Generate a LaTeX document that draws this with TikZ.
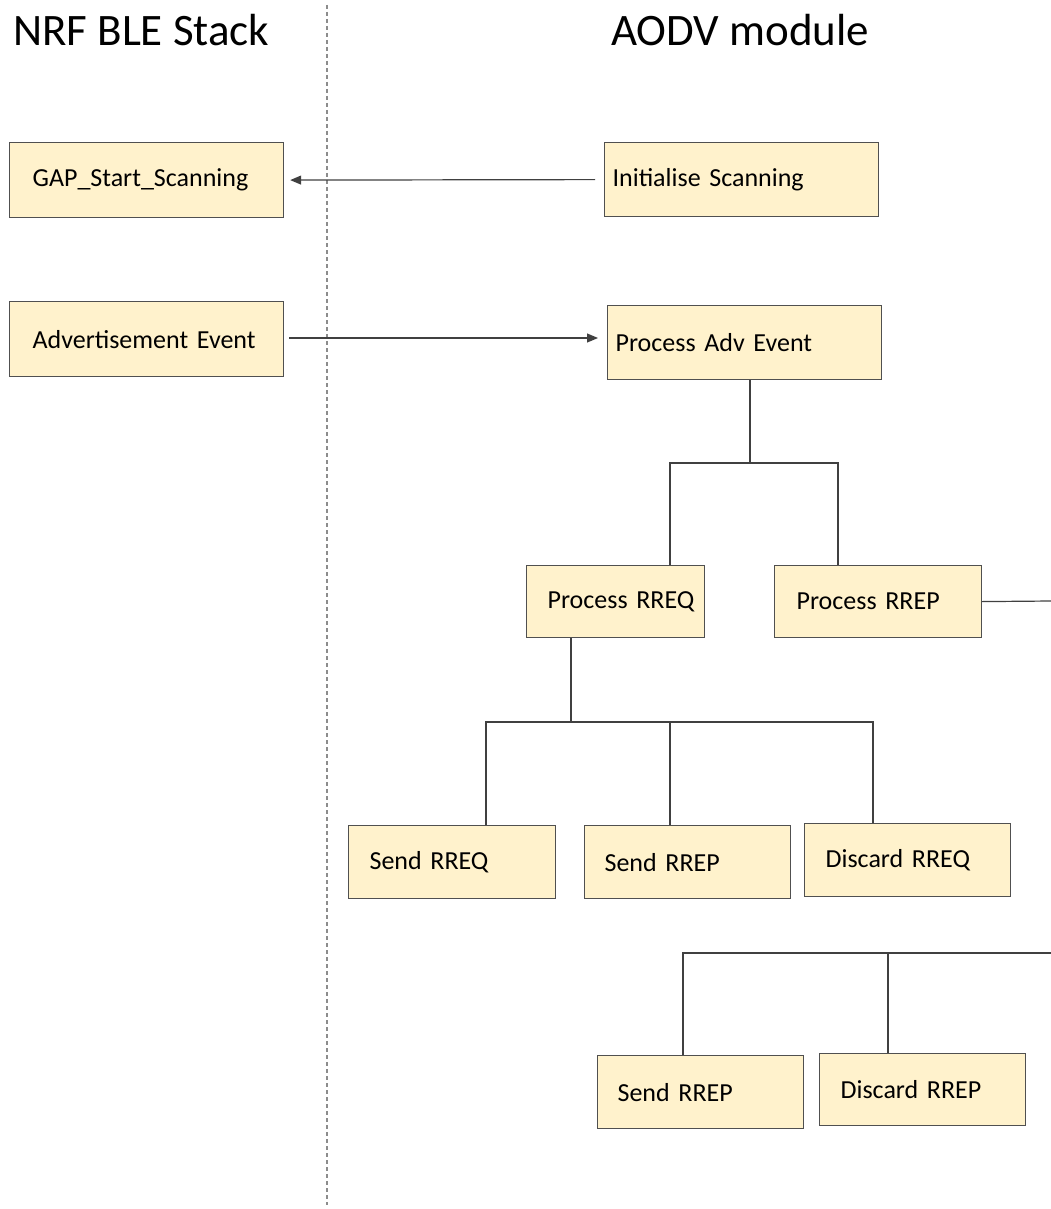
\documentclass[tikz,border=0pt]{standalone}
\usepackage{fontspec}
\setmainfont{Carlito}
\usetikzlibrary{arrows.meta}
\definecolor{boxfill}{HTML}{FFF2CC}
\definecolor{boxline}{HTML}{505050}
\definecolor{connline}{HTML}{404040}
\definecolor{laneline}{HTML}{8C8C8C}
\begin{document}
\begin{tikzpicture}[x=1pt,y=-1pt,
  box/.style={draw=boxline, line width=1.2pt, fill=boxfill, anchor=north west,
    align=left, font=\fontsize{26}{30}\selectfont, inner sep=0pt},
  title/.style={anchor=base west, inner sep=0pt, font=\fontsize{45}{52}\selectfont},
  conn/.style={draw=connline, line width=1.2pt},
  arr/.style={conn, -{Triangle[length=11pt,width=9pt]}},
  lane/.style={draw=laneline, line width=1.5pt, dash pattern=on 4pt off 3pt}]
\useasboundingbox (0,0) rectangle (1051,1209);

% swim-lane titles and divider
\node[title] (tstack) at (13,46) {NRF BLE Stack};
\node[title] (taodv) at (611,46) {AODV module};
\draw[lane] (327,5) -- (327,1205);

% NRF BLE stack side
\node[box, text width=274pt, minimum height=75pt]
  (gap) at (9,142) {\hspace*{23pt}GAP\_Start\_Scanning};
\node[box, text width=274pt, minimum height=75pt]
  (adv) at (9,301) {\hspace*{23pt}Advertisement Event};

% AODV module side
\node[box, text width=274pt, minimum height=74pt]
  (init) at (604,142) {\hspace*{8pt}Initialise Scanning};
\node[box, text width=274pt, minimum height=74pt]
  (padv) at (607,305) {\hspace*{8pt}Process Adv Event};
\node[box, text width=178pt, minimum height=72pt]
  (preq) at (526,565) {\hspace*{21pt}Process RREQ};
\node[box, text width=207pt, minimum height=72pt]
  (prep) at (774,565) {\hspace*{22pt}Process RREP};
\node[box, text width=207pt, minimum height=73pt]
  (sreq) at (348,825) {\hspace*{21pt}Send RREQ};
\node[box, text width=206pt, minimum height=73pt]
  (srep) at (584,825) {\hspace*{20pt}Send RREP};
\node[box, text width=206pt, minimum height=73pt]
  (dreq) at (804,823) {\hspace*{21pt}Discard RREQ};
\node[box, text width=206pt, minimum height=73pt]
  (srep2) at (597,1055) {\hspace*{20pt}Send RREP};
\node[box, text width=206pt, minimum height=72pt]
  (drep) at (819,1053) {\hspace*{21pt}Discard RREP};

% messages across the lanes
\draw[arr] ([xshift=-9pt]init.west) -- ([xshift=6pt]gap.east);
\draw[arr] ([xshift=5pt]adv.east |- 0,338) -- ([xshift=-9pt]padv.west |- 0,338);

% junction points of the branch lines
\coordinate (j1) at (750,463);
\coordinate (b1l) at (670,463);
\coordinate (b1r) at (838,463);
\coordinate (j2) at (571,722);
\coordinate (b2l) at (486,722);
\coordinate (b2m) at (670,722);
\coordinate (b2r) at (873,722);
\coordinate (prepout) at (1051,601);
\coordinate (b3l) at (683,953);
\coordinate (b3m) at (888,953);
\coordinate (b3r) at (1051,953);

% Process Adv Event branches
\draw[conn] (j1 |- padv.south) -- (j1);
\draw[conn] (preq.north -| b1l) -- (b1l) -- (b1r) -- (prep.north -| b1r);

% Process RREQ branches
\draw[conn] (j2 |- preq.south) -- (j2);
\draw[conn] (sreq.north -| b2l) -- (b2l) -- (b2r) -- (dreq.north -| b2r);
\draw[conn] (b2m) -- (srep.north -| b2m);

% Process RREP branches
\draw[conn] (prep.east) -- (prepout);
\draw[conn] (b3r) -- (b3l) -- (srep2.north -| b3l);
\draw[conn] (b3m) -- (drep.north -| b3m);
\end{tikzpicture}
\end{document}
